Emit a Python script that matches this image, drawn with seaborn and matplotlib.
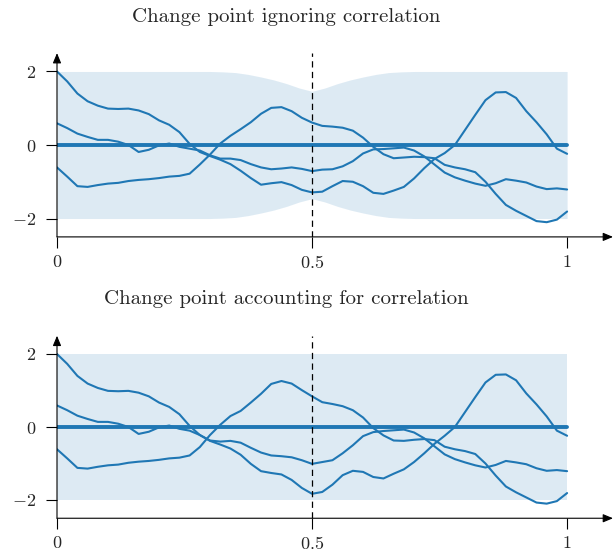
import numpy as np
import matplotlib.pyplot as plt
import seaborn as sns

# sample locations and change point
xg = np.linspace(0, 1, 51)
change_x = 0.5

# mean function
mean_x = [0.0, 1.0]
mean_y = [0.0, 0.0]

# panel 1: change point ignoring correlation
top_band_x = [0.0, 0.30, 0.325, 0.35, 0.375, 0.40, 0.425, 0.45, 0.475, 0.50,
              0.525, 0.55, 0.575, 0.60, 0.625, 0.65, 0.675, 0.70, 1.0]
top_band_sd = [2.0, 2.0, 1.99, 1.97, 1.92, 1.85, 1.77, 1.67, 1.55, 1.46,
               1.55, 1.67, 1.77, 1.85, 1.92, 1.97, 1.99, 2.0, 2.0]
top_a = [2.00, 1.73, 1.40, 1.19, 1.07, 0.99, 0.98, 0.99, 0.94, 0.84,
         0.67, 0.55, 0.35, 0.03, -0.19, -0.30, -0.40, -0.52, -0.70, -0.90,
         -1.08, -1.04, -1.01, -1.09, -1.22, -1.29, -1.27, -1.12, -0.98, -1.00,
         -1.12, -1.30, -1.33, -1.24, -1.14, -0.91, -0.63, -0.38, -0.22, 0.00,
         0.41, 0.82, 1.22, 1.43, 1.44, 1.28, 0.92, 0.62, 0.29, -0.10, -0.24]
top_b = [0.59, 0.46, 0.31, 0.22, 0.14, 0.14, 0.09, 0.00, -0.19, -0.13,
         -0.01, 0.04, -0.05, -0.10, -0.15, -0.28, -0.37, -0.37, -0.41, -0.52,
         -0.61, -0.66, -0.64, -0.61, -0.65, -0.71, -0.67, -0.66, -0.58, -0.44,
         -0.23, -0.12, -0.11, -0.09, -0.07, -0.15, -0.31, -0.53, -0.75, -0.88,
         -0.97, -1.05, -1.11, -1.04, -0.93, -0.97, -1.02, -1.13, -1.20, -1.18, -1.21]
top_c = [-0.61, -0.86, -1.12, -1.14, -1.09, -1.05, -1.03, -0.98, -0.95, -0.93,
         -0.90, -0.86, -0.84, -0.78, -0.53, -0.26, 0.04, 0.25, 0.43, 0.62,
         0.85, 1.01, 1.03, 0.92, 0.74, 0.61, 0.52, 0.50, 0.47, 0.39,
         0.20, -0.05, -0.25, -0.36, -0.34, -0.32, -0.33, -0.36, -0.54, -0.61,
         -0.66, -0.74, -1.00, -1.33, -1.63, -1.79, -1.93, -2.07, -2.10, -2.03, -1.81]

# panel 2: change point accounting for correlation
bot_band_x = [0.0, 1.0]
bot_band_sd = [2.0, 2.0]
bot_a = [2.00, 1.73, 1.40, 1.19, 1.07, 0.99, 0.98, 0.99, 0.94, 0.84,
         0.67, 0.55, 0.35, 0.03, -0.22, -0.38, -0.48, -0.59, -0.76, -1.01,
         -1.21, -1.26, -1.30, -1.45, -1.67, -1.83, -1.78, -1.58, -1.32, -1.20,
         -1.23, -1.37, -1.41, -1.28, -1.16, -0.96, -0.72, -0.46, -0.24, 0.00,
         0.41, 0.82, 1.22, 1.43, 1.44, 1.28, 0.92, 0.62, 0.29, -0.10, -0.24]
bot_b = [0.59, 0.46, 0.31, 0.22, 0.14, 0.14, 0.09, 0.00, -0.19, -0.13,
         -0.01, 0.04, -0.05, -0.10, -0.22, -0.37, -0.40, -0.38, -0.43, -0.57,
         -0.70, -0.78, -0.80, -0.83, -0.91, -1.01, -0.96, -0.91, -0.72, -0.50,
         -0.25, -0.14, -0.11, -0.09, -0.07, -0.15, -0.31, -0.53, -0.75, -0.88,
         -0.97, -1.05, -1.11, -1.04, -0.93, -0.97, -1.02, -1.13, -1.20, -1.18, -1.21]
bot_c = [-0.61, -0.86, -1.12, -1.14, -1.09, -1.05, -1.03, -0.98, -0.95, -0.93,
         -0.90, -0.86, -0.84, -0.78, -0.55, -0.22, 0.06, 0.30, 0.44, 0.67,
         0.91, 1.18, 1.26, 1.19, 1.01, 0.84, 0.68, 0.63, 0.57, 0.46,
         0.26, -0.03, -0.23, -0.37, -0.38, -0.35, -0.33, -0.36, -0.54, -0.61,
         -0.66, -0.74, -1.00, -1.33, -1.63, -1.79, -1.93, -2.07, -2.10, -2.03, -1.81]

titles = ["Change point ignoring correlation", "Change point accounting for correlation"]
xtick_vals = [0, 0.5, 1]
xtick_labels = ["$0$", "$0.5$", "$1$"]
ytick_vals = [-2, 0, 2]
ytick_labels = ["$-2$", "$0$", "$2$"]

sns.set_style("white")
plt.rcParams["mathtext.fontset"] = "cm"
plt.rcParams["font.family"] = ["cmr10", "DejaVu Serif"]

blue = "#1f77b4"
W, H = 616, 552

fig = plt.figure(figsize=(6.16, 5.52), dpi=100)

# pixel boxes (left, top, right, bottom) and title baselines
boxes = [(57, 53.1, 613, 236.9), (57, 335.75, 613, 518.25)]
title_base = [21.7, 303.7]

panels = [
    (top_band_x, top_band_sd, [top_a, top_b, top_c]),
    (bot_band_x, bot_band_sd, [bot_a, bot_b, bot_c]),
]

for i, (bx, bsd, curves) in enumerate(panels):
    l, t, r, b = boxes[i]
    ax = fig.add_axes([l / W, 1 - b / H, (r - l) / W, (b - t) / H])
    ax.patch.set_alpha(0)

    bsd = np.array(bsd)
    ax.fill_between(bx, -bsd, bsd, color=blue, alpha=0.15, lw=0)
    for c in curves:
        sns.lineplot(x=xg, y=c, ax=ax, color=blue, linewidth=1.5)
    sns.lineplot(x=mean_x, y=mean_y, ax=ax, color=blue, linewidth=2.8)
    ax.axvline(change_x, color="black", lw=0.9, ls=(0, (5, 3.5)))

    ax.set_xlim(0, 1.09)
    ax.set_ylim(-2.5, 2.5)
    ax.set_xticks(xtick_vals, labels=xtick_labels)
    ax.set_yticks(ytick_vals, labels=ytick_labels)
    ax.tick_params(direction="out", length=8, width=0.8, color="black",
                   labelsize=13, bottom=True, left=True)
    ax.tick_params(axis="x", pad=4)
    ax.tick_params(axis="y", pad=7)
    ax.set_xlabel("")
    ax.set_ylabel("")
    for s in ax.spines.values():
        s.set_visible(False)

    # axis lines with arrow heads
    arrow = dict(arrowstyle="-|>,head_length=0.6,head_width=0.25", color="black",
                 lw=0.8, shrinkA=0, shrinkB=0, mutation_scale=10)
    ax.annotate("", xy=(1, 0), xytext=(0, 0), xycoords="axes fraction", arrowprops=arrow)
    ax.annotate("", xy=(0, 1), xytext=(0, 0), xycoords="axes fraction", arrowprops=arrow)

    fig.text(286 / W, 1 - title_base[i] / H, titles[i], ha="center", va="baseline",
             fontsize=15)

fig.savefig("out.png", dpi=100)
